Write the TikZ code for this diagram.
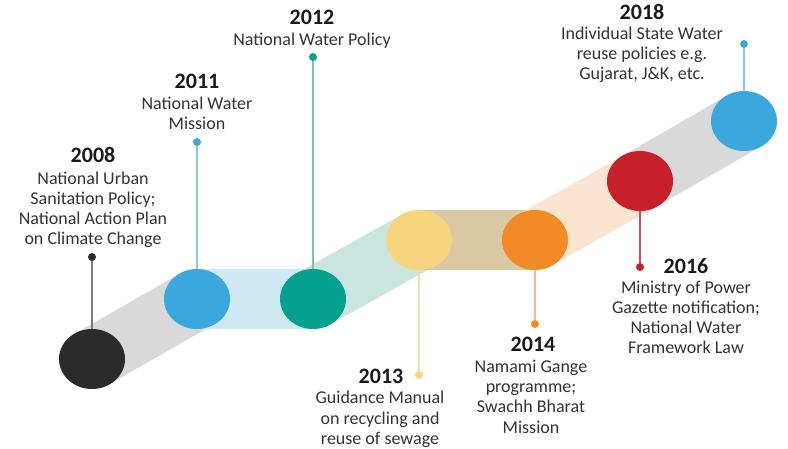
\documentclass[tikz,border=0pt]{standalone}
\usepackage{fontspec}
\setmainfont{Carlito}
\usetikzlibrary{shapes.geometric}
\definecolor{yearcol}{HTML}{1A1A1A}
\definecolor{desccol}{HTML}{333333}
\definecolor{cblack}{HTML}{2B2B2B}
\definecolor{cblue}{HTML}{3AA7DD}
\definecolor{cteal}{HTML}{06A28F}
\definecolor{cyellow}{HTML}{F8D47E}
\definecolor{corange}{HTML}{F28B25}
\definecolor{cred}{HTML}{C8202A}
\definecolor{bgray}{HTML}{D9D9D9}
\definecolor{bblue}{HTML}{CFE9F3}
\definecolor{bteal}{HTML}{CAE4E0}
\definecolor{btan}{HTML}{D8C9A2}
\definecolor{bpeach}{HTML}{FBE4D0}
\definecolor{sgray}{HTML}{7A7A7A}
\definecolor{sblue}{HTML}{86C8E6}
\definecolor{steal}{HTML}{72C3B9}
\definecolor{syellow}{HTML}{F4DFA8}
\definecolor{sorange}{HTML}{F1BE93}
\definecolor{sred}{HTML}{D05058}
\begin{document}
\begin{tikzpicture}[x=1pt,y=-1pt,
  disc/.style={ellipse, minimum width=66pt, minimum height=60pt, inner sep=0pt, fill=#1},
  band/.style={line width=61pt, draw=#1},
  pin/.style={circle, fill=#1, minimum size=8pt, inner sep=0pt},
  stem/.style={draw=#1, line width=1.5pt},
  yr/.style={font=\fontsize{22}{24}\selectfont\bfseries, text=yearcol, inner sep=0pt, anchor=base},
  desc/.style={font=\fontsize{18}{20.3}\selectfont, text=desccol, align=center, inner sep=0pt, anchor=base}]
\useasboundingbox (0,0) rectangle (788,449);
% centres
\coordinate (p08) at (92,359);
\coordinate (p11) at (197,299);
\coordinate (p12) at (313,299);
\coordinate (p13) at (419,240);
\coordinate (p14) at (535,240);
\coordinate (p16) at (640,181);
\coordinate (p18) at (744,121);
% bands
\draw[band=bgray] (p08) -- (p11);
\draw[band=bblue, line width=60pt] (p11) -- (p12);
\draw[band=bteal] (p12) -- (p13);
\draw[band=btan, line width=60pt] (p13) -- (p14);
\draw[band=bpeach] (p14) -- (p16);
\draw[band=bgray] (p16) -- (p18);
% discs
\node[disc=cblack] (c08) at (p08) {};
\node[disc=cblue] (c11) at (p11) {};
\node[disc=cteal] (c12) at (p12) {};
\node[disc=cyellow] (c13) at (p13) {};
\node[disc=corange] (c14) at (p14) {};
\node[disc=cred] (c16) at (p16) {};
\node[disc=cblue] (c18) at (p18) {};
% pins
\node[pin=cblack] (d08) at (92,257) {};
\node[pin=cblue] (d11) at (197,142) {};
\node[pin=cteal] (d12) at (313,57) {};
\node[pin=cyellow] (d13) at (419,375) {};
\node[pin=corange] (d14) at (535,324) {};
\node[pin=cred] (d16) at (640,267) {};
\node[pin=cblue] (d18) at (744,44) {};
% stems
\draw[stem=sgray] (d08) -- (c08.north);
\draw[stem=sblue] (d11) -- (c11.north);
\draw[stem=steal] (d12) -- (c12.north);
\draw[stem=syellow] (c13.south) -- (d13);
\draw[stem=sorange] (c14.south) -- (d14);
\draw[stem=sred] (c16.south) -- (d16);
\draw[stem=sblue] (d18) -- (c18.north);
% texts (multi-line nodes: base = baseline of last line)
\node[yr] (y08) at (93,163) {2008};
\node[desc] (t08) at (93,245) {National Urban\\Sanitation Policy;\\National Action Plan\\on Climate Change};
\node[yr] (y11) at (197,89) {2011};
\node[desc] (t11) at (197,129.5) {National Water\\Mission};
\node[yr] (y12) at (312,25) {2012};
\node[desc] (t12) at (312,46) {National Water Policy};
\node[yr] (y13) at (381,384) {2013};
\node[desc] (t13) at (380,444.5) {Guidance Manual\\on recycling and\\reuse of sewage};
\node[yr] (y14) at (533,352) {2014};
\node[desc] (t14) at (531,433) {Namami Gange\\programme;\\Swachh Bharat\\Mission};
\node[yr] (y16) at (686,274) {2016};
\node[desc] (t16) at (686,354) {Ministry of Power\\Gazette notification;\\National Water\\Framework Law};
\node[yr] (y18) at (642,20) {2018};
\node[desc] (t18) at (642,80) {Individual State Water\\reuse policies e.g.\\Gujarat, J\&K, etc.};
\end{tikzpicture}
\end{document}
